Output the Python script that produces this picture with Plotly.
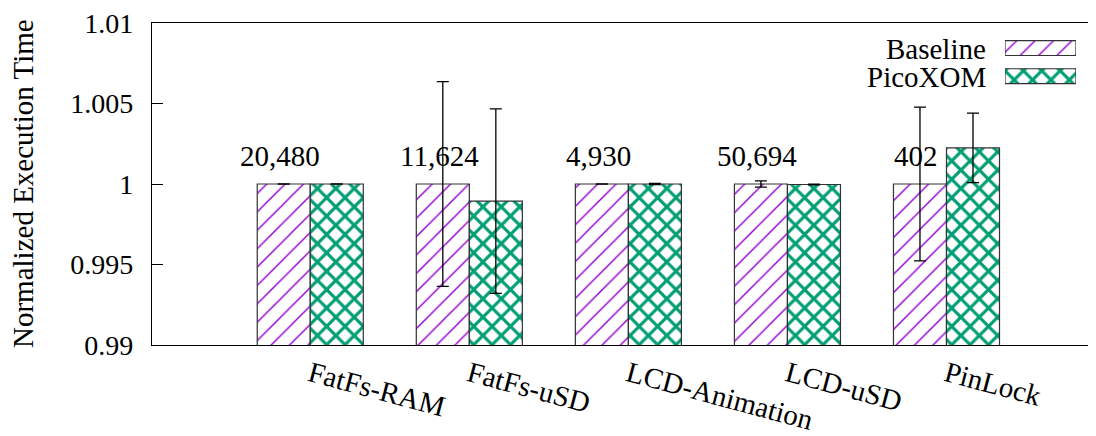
import plotly.graph_objects as go

categories = ["FatFs-RAM", "FatFs-uSD", "LCD-Animation", "LCD-uSD", "PinLock"]
baseline = [1.0, 1.0, 1.0, 1.0, 1.0]
baseline_err = [0.00001, 0.00636, 0.00001, 0.0002, 0.00477]
picoxom = [1.0, 0.99894, 1.0, 0.99997, 1.00224]
picoxom_err = [0.00001, 0.00573, 0.00003, 0.00002, 0.00216]
counts = ["20,480", "11,624", "4,930", "50,694", "402"]
series_names = ["Baseline", "PicoXOM"]
ytick_vals = [0.99, 0.995, 1.0, 1.005, 1.01]
ytick_text = ["0.99", "0.995", "1", "1.005", "1.01"]

FONT = "Liberation Serif"
PURPLE = "#9400D3"
GREEN = "#009E73"
xpos = list(range(len(categories)))

# page body has an 8px margin; figure coordinates below are page coordinates minus 8
W, H = 1088, 428
L, T, B = 144, 13, 78
PW, PH = W - L, H - T - B


def px_x(p):  # screenshot x -> paper
    return (p - 8 - L) / PW


def px_y(p):  # screenshot y -> paper
    return (H - B - (p - 8)) / PH


fig = go.Figure()
fig.add_trace(go.Bar(
    x=xpos, y=baseline, name="Baseline", showlegend=False,
    marker=dict(color="white", line=dict(color="#333", width=1.2),
                pattern=dict(shape="/", fgcolor=PURPLE, bgcolor="white", fgopacity=1,
                             size=13, solidity=0.11, fillmode="overlay")),
    error_y=dict(type="data", array=baseline_err, color="black", thickness=1.3, width=6),
))
fig.add_trace(go.Bar(
    x=xpos, y=picoxom, name="PicoXOM", showlegend=False,
    marker=dict(color="white", line=dict(color="#333", width=1.2),
                pattern=dict(shape="x", fgcolor=GREEN, bgcolor="white", fgopacity=1,
                             size=13, solidity=0.43, fillmode="overlay")),
    error_y=dict(type="data", array=picoxom_err, color="black", thickness=1.3, width=6),
))

# legend samples on an inset axis
fig.add_trace(go.Bar(
    x=[1, 1], y=series_names, orientation="h", width=0.53, showlegend=False,
    xaxis="x2", yaxis="y2", hoverinfo="skip",
    marker=dict(color="white", line=dict(color="#333", width=1.2),
                pattern=dict(shape=["/", "x"], fgcolor=[PURPLE, GREEN], bgcolor="white",
                             fgopacity=1, size=13, solidity=[0.11, 0.43],
                             fillmode="overlay")),
))

annotations = []
for i, c in enumerate(counts):
    annotations.append(dict(x=xpos[i] - 0.19, y=1.00172, xref="x", yref="y", text=c,
                            showarrow=False, xanchor="center", yanchor="middle",
                            font=dict(family=FONT, size=29, color="black")))
# legend text
for name, py in zip(series_names, [48.5, 78.0]):
    annotations.append(dict(x=px_x(988), y=px_y(py), xref="paper", yref="paper",
                            text=name, showarrow=False, xanchor="right", yanchor="middle",
                            font=dict(family=FONT, size=29, color="black")))
# y axis title
annotations.append(dict(x=px_x(23), y=0.5, xref="paper", yref="paper",
                        text="Normalized Execution Time", textangle=-90, showarrow=False,
                        xanchor="center", yanchor="middle",
                        font=dict(family=FONT, size=29, color="black")))

fig.update_layout(
    width=W, height=H,
    margin=dict(l=L, r=0, t=T, b=B, pad=0),
    paper_bgcolor="white", plot_bgcolor="white",
    barmode="group", bargap=1/3, bargroupgap=0,
    font=dict(family=FONT, size=28, color="black"),
    annotations=annotations,
    xaxis=dict(range=[-0.995, 4.94], tickvals=xpos, ticktext=categories, tickangle=15,
               showline=True, linecolor="black", linewidth=1.3, mirror=True,
               ticks="", showgrid=False, zeroline=False, ticklabeloverflow="allow",
               tickfont=dict(family=FONT, size=29, color="black")),
    yaxis=dict(range=[0.99, 1.01], tickvals=ytick_vals, ticktext=ytick_text,
               ticks="inside", ticklen=11, tickwidth=1.2, tickcolor="black",
               showline=True, linecolor="black", linewidth=1.3, mirror=False,
               showgrid=False, zeroline=False, ticklabelstandoff=12,
               ticklabeloverflow="allow",
               tickfont=dict(family=FONT, size=28, color="black")),
    xaxis2=dict(domain=[px_x(1005), px_x(1076)], range=[0, 1],
                anchor="y2", visible=False, fixedrange=True),
    yaxis2=dict(domain=[px_y(91.45), px_y(32.45)], range=[1.5, -0.5],
                type="category", anchor="x2", visible=False, fixedrange=True),
)

fig.write_html("out.html")
